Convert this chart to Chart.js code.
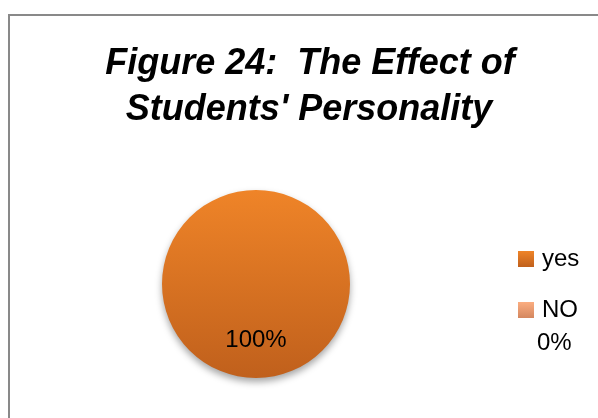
<!DOCTYPE html>
<html>
<head>
<meta charset="utf-8">
<script src="https://cdn.jsdelivr.net/npm/chart.js@4/dist/chart.umd.min.js"></script>
<style>
    html, body { margin: 0; padding: 0; background: #fff; }
    #wrap { position: relative; width: 598px; height: 418px; overflow: hidden; }
    #frame { position: absolute; left: 8px; top: 14px; width: 620px; height: 440px;
             border: 2px solid #898989; box-sizing: border-box; }
    canvas { position: absolute; left: 0; top: 0; }
</style>
</head>
<body>
<div id="wrap">
    <div id="frame"></div>
    <canvas id="pieChart" width="598" height="418"></canvas>
</div>
<script>
// chart data
var categories = ['yes', 'NO'];
var values = [100, 0];
var titleLines = ['Figure 24:  The Effect of', "Students' Personality"];

var sliceColors = [['#EF8428', '#C0601C'], ['#FBAD80', '#D4875F']];

function pct(i) {
    var total = values.reduce((a, b) => a + b, 0);
    return Math.round(values[i] / total * 100) + '%';
}

function vGradient(ctx, top, bottom, colors) {
    var g = ctx.createLinearGradient(0, top, 0, bottom);
    g.addColorStop(0, colors[0]);
    g.addColorStop(1, colors[1]);
    return g;
}

// title, shadow, data labels and legend drawn on the canvas
var decorations = {
    id: 'decorations',
    beforeDatasetsDraw(chart) {
        var ctx = chart.ctx;
        ctx.save();
        ctx.shadowColor = 'rgba(0,0,0,0.35)';
        ctx.shadowBlur = 7;
        ctx.shadowOffsetY = 4;
    },
    afterDatasetsDraw(chart) {
        var ctx = chart.ctx;
        ctx.restore();

        // data label inside the slice
        var meta = chart.getDatasetMeta(0);
        ctx.save();
        ctx.fillStyle = '#000';
        ctx.font = '24px "Liberation Sans", Arial, sans-serif';
        ctx.textAlign = 'center';
        ctx.textBaseline = 'middle';
        meta.data.forEach((arc, i) => {
            if (!values[i]) return;
            var p = arc.getProps(['x', 'y', 'startAngle', 'endAngle', 'outerRadius'], true);
            var mid = (p.startAngle + p.endAngle) / 2;
            ctx.fillText(pct(i), p.x + Math.cos(mid) * p.outerRadius * 0.6,
                p.y + Math.sin(mid) * p.outerRadius * 0.6);
        });
        ctx.restore();
    },
    afterDraw(chart) {
        var ctx = chart.ctx;
        ctx.save();
        // title
        ctx.fillStyle = '#000';
        ctx.textAlign = 'center';
        ctx.textBaseline = 'alphabetic';
        ctx.font = 'italic bold 36px "Liberation Sans", Arial, sans-serif';
        ctx.fillText(titleLines[0], 310, 74);
        ctx.fillText(titleLines[1], 309, 120);

        // legend
        ctx.textAlign = 'left';
        ctx.font = '24px "Liberation Sans", Arial, sans-serif';
        var rows = [251, 302];
        categories.forEach((name, i) => {
            var y = rows[i];
            ctx.fillStyle = vGradient(ctx, y, y + 16, sliceColors[i]);
            ctx.fillRect(518, y, 16, 16);
            ctx.fillStyle = '#000';
            ctx.fillText(name, 542, y + 15);
            if (!values[i]) ctx.fillText(pct(i), 537, y + 48);
        });
        ctx.restore();
    }
};

var ctx = document.getElementById('pieChart').getContext('2d');
var myChart = new Chart(ctx, {
    type: 'pie',
    data: {
        labels: categories,
        datasets: [{
            data: values,
            borderWidth: 0,
            backgroundColor: (c) => {
                var area = c.chart.chartArea;
                if (!area) return sliceColors[c.dataIndex][0];
                return vGradient(c.chart.ctx, area.top, area.bottom, sliceColors[c.dataIndex]);
            }
        }]
    },
    options: {
        responsive: false,
        animation: false,
        layout: {
            padding: { left: 162, right: 248, top: 190, bottom: 40 }
        },
        plugins: {
            legend: { display: false },
            title: { display: false },
            tooltip: { enabled: false }
        }
    },
    plugins: [decorations]
});
</script>
</body>
</html>
